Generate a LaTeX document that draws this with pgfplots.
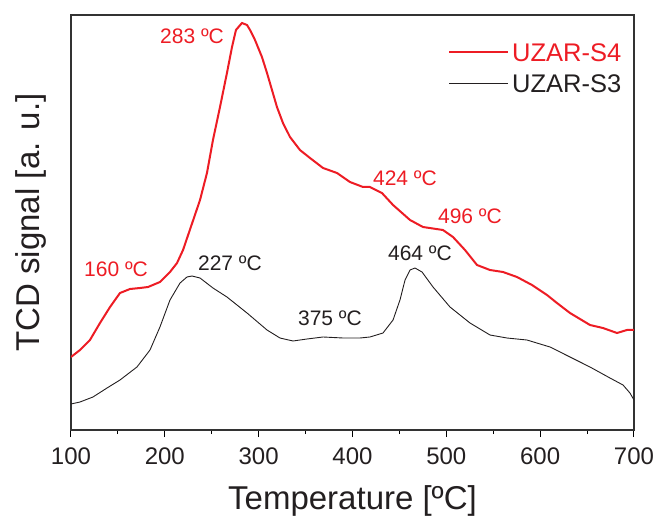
\documentclass[border=0pt]{standalone}
\usepackage{fontspec}
\setmainfont{Liberation Sans}
\usepackage{pgfplots}
\pgfplotsset{compat=1.18}

\definecolor{uzred}{RGB}{237,28,36}
\definecolor{uzblk}{RGB}{35,31,32}

\begin{document}
\begin{tikzpicture}
\begin{axis}[
    scale only axis,
    width=563pt, height=415pt,
    xmin=100, xmax=700,
    ymin=0, ymax=415,
    xtick={100,200,...,700},
    minor x tick num=1,
    ytick=\empty,
    xtick pos=left,
    tick align=outside,
    major tick length=7pt,
    minor tick length=4pt,
    tick style={line width=1pt, black},
    axis line style={line width=1.3pt, black!80},
    /pgf/number format/assume math mode=true,
    /pgf/number format/1000 sep={},
    xticklabel style={font=\fontsize{24}{28}\selectfont, text=uzblk, yshift=-7pt},
    xlabel={Temperature [ºC]},
    ylabel={TCD signal [a. u.]},
    label style={font=\fontsize{33}{38}\selectfont, text=uzblk},
    xlabel style={at={([yshift=-79pt]rel axis cs:0.5,0)}, anchor=base},
    ylabel style={at={([xshift=-31pt]rel axis cs:0,0.5)}, anchor=base},
    legend style={draw=none, fill=none, at={(axis cs:501.8,393.5)}, anchor=north west,
        inner sep=0pt, column sep=3pt, row sep=0pt,
        nodes={inner xsep=0pt, inner ysep=6.5pt, text height=18pt, text depth=0pt,
               font=\fontsize{25.5}{30}\selectfont}},
    legend cell align=left,
    legend image code/.code={\draw[#1] (0pt,0pt) -- (59pt,0pt);},
]
\coordinate (sw) at (rel axis cs:0,0);

\addplot[uzred, line width=2pt] coordinates {
(100,73) (109.6,80) (120.2,90) (130.9,107) (141.6,123) (152.2,137) (162.9,141)
(173.5,142) (182.1,143) (194.8,148) (205.5,158) (213.0,167) (219.4,180)
(237.5,230) (244.9,257) (251.3,290) (258.8,323) (266.2,357) (271.6,383)
(275.8,400) (282.2,407) (287.6,405) (290.8,400) (296.1,390) (303.5,373)
(308.9,357) (314.2,340) (319.5,323) (325.9,307) (333.4,293) (344.0,280)
(354.7,272) (368.6,262) (383.5,257) (397.3,248) (411.2,243) (418.6,243)
(431.4,237) (443.2,225) (461.3,210) (475.1,203) (496.4,200) (507.1,193)
(519.9,180) (532.7,165) (546.5,160) (560.4,158) (575.3,153) (591.3,145)
(607.3,135) (617.9,127) (631.8,117) (653.1,105) (666.9,102) (681.9,97)
(692.5,100) (700,100)
};
\addlegendentry{\textcolor{uzred}{UZAR-S4}}

\addplot[uzblk, line width=0.9pt] coordinates {
(100,26) (109.6,28) (123.4,33) (138.4,42) (152.2,50) (170.3,63) (184.2,80)
(194.8,103) (205.5,130) (216.2,147) (223.6,153) (229.0,154) (237.5,152)
(251.3,142) (266.2,133) (287.6,117) (308.9,100) (322.7,92) (336.6,89)
(351.5,91) (368.6,93) (389.9,92) (408.0,92) (418.6,93) (432.5,97)
(443.2,110) (450.6,130) (456.0,150) (461.3,160) (466.6,162) (474.1,158)
(485.8,143) (503.9,123) (525.2,107) (546.5,95) (564.6,92) (585.9,90)
(610.5,83) (631.8,73) (653.1,63) (674.4,52) (688.3,45) (695.7,37) (700,30)
};
\addlegendentry{\textcolor{uzblk}{UZAR-S3}}

\begin{scope}[font=\fontsize{21}{25}\selectfont]
\node[text=uzred] at (axis cs:229.0,394) {283 ºC};
\node[text=uzred] at (axis cs:148.0,161) {160 ºC};
\node[text=uzred] at (axis cs:455.9,252) {424 ºC};
\node[text=uzred] at (axis cs:525.2,214) {496 ºC};
\node[text=uzblk] at (axis cs:269.4,167) {227 ºC};
\node[text=uzblk] at (axis cs:376.0,112) {375 ºC};
\node[text=uzblk] at (axis cs:471.9,177) {464 ºC};
\end{scope}
\end{axis}
\pgfresetboundingbox
\path[use as bounding box] (sw) ++(-71pt,-87pt) rectangle ++(657pt,517pt);
\end{tikzpicture}
\end{document}
